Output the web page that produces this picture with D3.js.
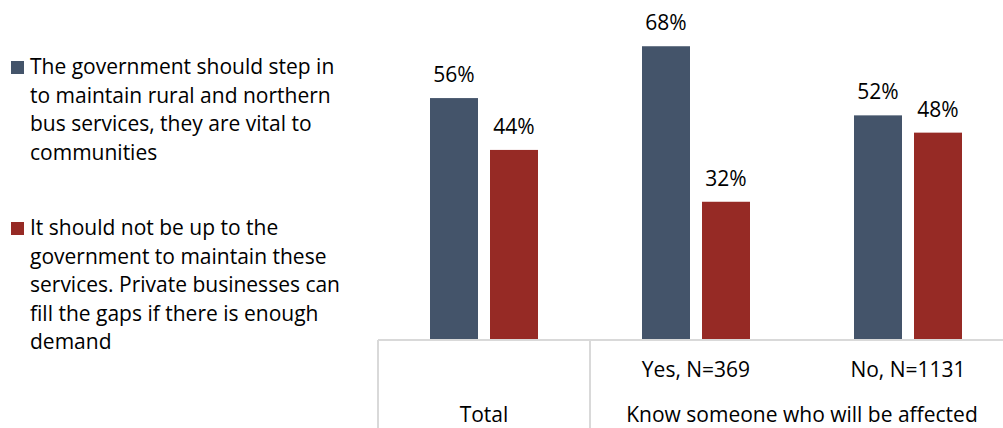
<!DOCTYPE html>
<html>
<head>
<meta charset="utf-8">
<script src="https://cdn.jsdelivr.net/npm/d3@7"></script>
<style>
  html, body { margin: 0; padding: 0; background: #fff; }
  svg text { font-family: "Open Sans", "Noto Sans", sans-serif; fill: #000; }
</style>
</head>
<body>
<svg id="chart" width="1003" height="428"></svg>
<script>
// Survey result: support for government maintaining rural / northern bus services
const groups = ["Total", "Yes, N=369", "No, N=1131"];
const seriesNames = [
  "The government should step in to maintain rural and northern bus services, they are vital to communities",
  "It should not be up to the government to maintain these services. Private businesses can fill the gaps if there is enough demand"
];
const stepIn = [56, 68, 52];
const notUpToGov = [44, 32, 48];
const legendLines = [
  ["The government should step in", "to maintain rural and northern", "bus services, they are vital to", "communities"],
  ["It should not be up to the", "government to maintain these", "services. Private businesses can", "fill the gaps if there is enough", "demand"]
];
const outerLabels = [{ text: "Total", span: [0, 0] }, { text: "Know someone who will be affected", span: [1, 2] }];
const colors = ["#44546a", "#962a25"];

const svg = d3.select("#chart");
const baseY = 340;
const fontSize = 21;

const x0 = d3.scaleBand().domain(groups).range([378, 1014]).padding(0);
const x1 = d3.scaleBand().domain([0, 1]).range([52, 160]).paddingInner(0.2).paddingOuter(0);
const y = d3.scaleLinear().domain([0, 100]).range([baseY, baseY - 432]);

const data = groups.map((g, i) => ({ group: g, values: [stepIn[i], notUpToGov[i]] }));

const gGroups = svg.append("g").selectAll("g")
  .data(data).join("g")
  .attr("transform", d => `translate(${x0(d.group)},0)`);

gGroups.selectAll("rect")
  .data(d => d.values.map((v, k) => ({ k, v })))
  .join("rect")
  .attr("x", d => x1(d.k))
  .attr("width", x1.bandwidth())
  .attr("y", d => y(d.v))
  .attr("height", d => baseY - y(d.v))
  .attr("fill", d => colors[d.k]);

gGroups.selectAll("text.val")
  .data(d => d.values.map((v, k) => ({ k, v })))
  .join("text")
  .attr("class", "val")
  .attr("x", d => x1(d.k) + x1.bandwidth() / 2)
  .attr("y", d => y(d.v) - 16)
  .attr("text-anchor", "middle")
  .attr("font-size", fontSize)
  .text(d => d.v + "%");

// Two-level category axis
const axis = svg.append("g");
axis.append("line")
  .attr("x1", 378).attr("x2", 1003).attr("y1", baseY).attr("y2", baseY)
  .attr("stroke", "#d9d9d9").attr("stroke-width", 2);
[x0("Total"), x0("Yes, N=369")].forEach(xx => {
  axis.append("line")
    .attr("x1", xx).attr("x2", xx).attr("y1", baseY).attr("y2", 428)
    .attr("stroke", "#d9d9d9").attr("stroke-width", 2);
});
axis.selectAll("text.inner")
  .data(groups.slice(1)).join("text")
  .attr("class", "inner")
  .attr("x", d => x0(d) + x0.bandwidth() / 2)
  .attr("y", 377)
  .attr("text-anchor", "middle")
  .attr("font-size", fontSize)
  .text(d => d);
axis.selectAll("text.outer")
  .data(outerLabels).join("text")
  .attr("class", "outer")
  .attr("x", d => (x0(groups[d.span[0]]) + x0(groups[d.span[1]]) + x0.bandwidth()) / 2)
  .attr("y", 422)
  .attr("text-anchor", "middle")
  .attr("font-size", fontSize)
  .text(d => d.text);

// Legend
const legendTop = [74, 235];
const lineStep = 28.6;
const legend = svg.append("g");
legendLines.forEach((lines, k) => {
  const g = legend.append("g");
  g.append("title").text(seriesNames[k]);
  g.append("rect")
    .attr("x", 11).attr("y", legendTop[k] - 13)
    .attr("width", 13).attr("height", 13)
    .attr("fill", colors[k]);
  g.selectAll("text").data(lines).join("text")
    .attr("x", 30)
    .attr("y", (d, i) => legendTop[k] + i * lineStep)
    .attr("font-size", fontSize)
    .text(d => d);
});
</script>
</body>
</html>
